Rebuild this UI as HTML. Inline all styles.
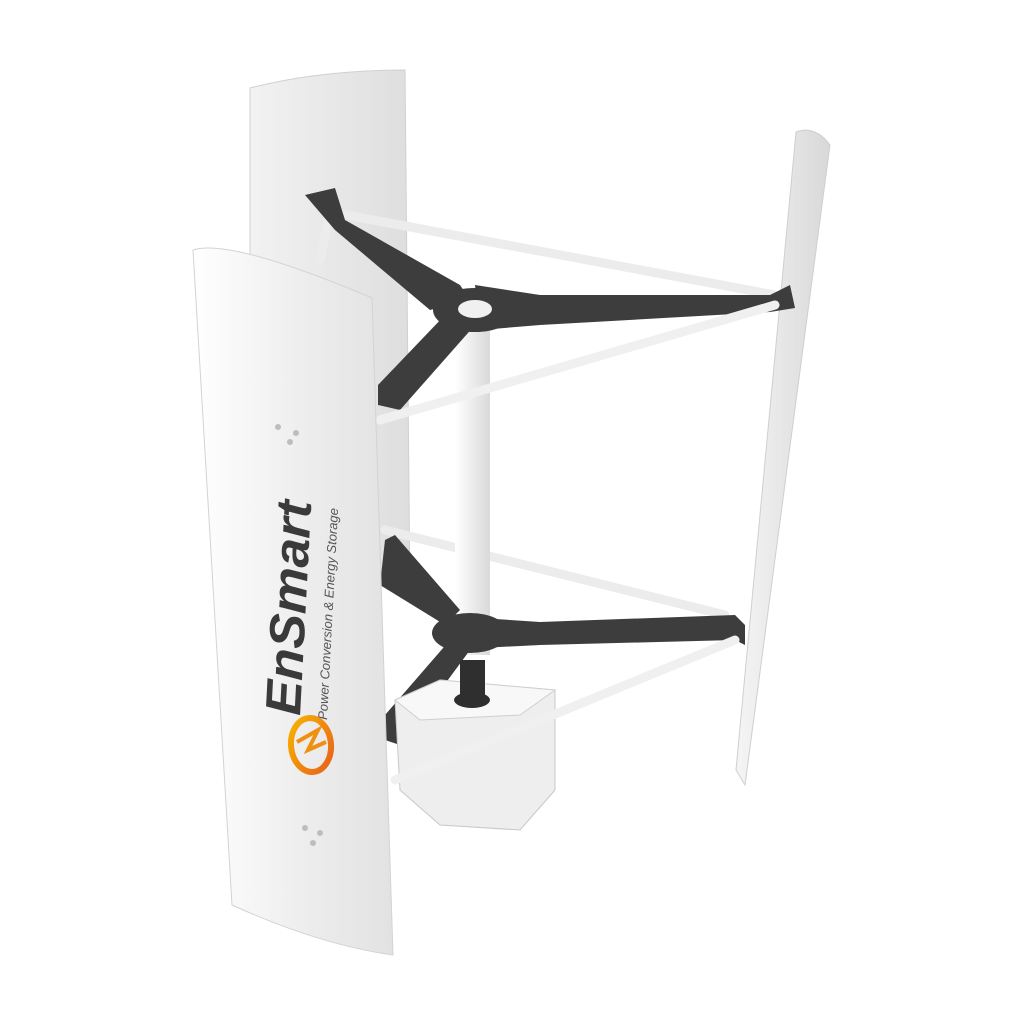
<!DOCTYPE html>
<html><head><meta charset="utf-8"><style>
html,body{margin:0;padding:0;background:#fff;width:1024px;height:1024px;overflow:hidden}
svg{display:block}
</style></head><body>
<svg width="1024" height="1024" viewBox="0 0 1024 1024" xmlns="http://www.w3.org/2000/svg">
<defs>
<linearGradient id="bl" x1="0" y1="0" x2="1" y2="0">
<stop offset="0" stop-color="#f2f2f2"/><stop offset="1" stop-color="#dedede"/></linearGradient>
<linearGradient id="fb" x1="0" y1="0" x2="1" y2="0">
<stop offset="0" stop-color="#ffffff"/><stop offset="0.6" stop-color="#ececec"/><stop offset="1" stop-color="#e2e2e2"/></linearGradient>
<linearGradient id="rb" x1="0" y1="0" x2="1" y2="0">
<stop offset="0" stop-color="#f5f5f5"/><stop offset="1" stop-color="#d8d8d8"/></linearGradient>
<linearGradient id="pole" x1="0" y1="0" x2="1" y2="0">
<stop offset="0" stop-color="#ffffff"/><stop offset="1" stop-color="#d9d9d9"/></linearGradient>
<linearGradient id="logo" x1="0" y1="0" x2="1" y2="1">
<stop offset="0" stop-color="#f8b400"/><stop offset="1" stop-color="#e8601a"/></linearGradient>
</defs>
<path d="M250,88 Q320,70 405,70 L410,595 Q395,585 385,580 L250,560 Z" fill="url(#bl)" stroke="#d0d0d0" stroke-width="1"/>
<g stroke="#ececec" stroke-width="9" stroke-linecap="round">
<line x1="330" y1="212" x2="775" y2="295"/>
<line x1="330" y1="212" x2="320" y2="260"/>
<line x1="385" y1="530" x2="725" y2="615"/>
</g>
<path d="M796,132 Q815,125 830,145 L745,785 L736,770 Z" fill="url(#rb)" stroke="#cfcfcf" stroke-width="1"/>
<rect x="455" y="305" width="35" height="350" fill="url(#pole)"/>
<g fill="#3d3d3d">
<path d="M305,195 L335,188 L345,220 L460,285 L470,300 L430,310 L335,230 Z"/>
<path d="M475,285 L540,295 L770,295 L790,285 L795,308 L770,312 L540,325 L480,330 Z"/>
<path d="M445,315 L475,325 L400,410 L378,405 L378,385 Z"/>
<ellipse cx="475" cy="310" rx="42" ry="22"/>
</g>
<ellipse cx="475" cy="309" rx="17" ry="9" fill="#f0f0f0"/>
<g fill="#3d3d3d">
<path d="M385,540 L395,535 L460,610 L445,625 L380,585 Z"/>
<path d="M480,618 L540,622 L735,615 L745,625 L745,645 L735,640 L540,645 L480,648 Z"/>
<path d="M450,640 L470,650 L400,745 L385,740 L385,715 Z"/>
<ellipse cx="470" cy="633" rx="38" ry="20"/>
</g>
<path d="M395,700 L440,680 L555,690 L555,790 L520,830 L440,825 L400,790 Z" fill="#eeeeee" stroke="#c8c8c8"/>
<path d="M395,700 L440,680 L555,690 L520,715 L420,720 Z" fill="#f8f8f8" stroke="#cfcfcf"/>
<rect x="460" y="660" width="25" height="40" fill="#2f2f2f"/>
<ellipse cx="472" cy="700" rx="18" ry="8" fill="#2f2f2f"/>
<g stroke="#f0f0f0" stroke-width="9" stroke-linecap="round">
<line x1="380" y1="420" x2="775" y2="305"/>
<line x1="395" y1="780" x2="735" y2="640"/>
</g>
<path d="M193,250 Q230,238 372,298 L393,955 Q320,945 232,905 Z" fill="url(#fb)" stroke="#d3d3d3" stroke-width="1"/>
<g fill="#bdbdbd"><circle cx="278" cy="427" r="3"/><circle cx="296" cy="433" r="3"/><circle cx="290" cy="442" r="3"/>
<circle cx="305" cy="828" r="3"/><circle cx="320" cy="833" r="3"/><circle cx="313" cy="843" r="3"/></g>
<text transform="translate(300,716) rotate(-87)" font-family="Liberation Sans, sans-serif" font-weight="bold" font-style="italic" font-size="50" fill="#3a3a3a" textLength="215" lengthAdjust="spacingAndGlyphs">EnSmart</text>
<text transform="translate(327,720) rotate(-87)" font-family="Liberation Sans, sans-serif" font-style="italic" font-size="13" fill="#555" textLength="212" lengthAdjust="spacingAndGlyphs">Power Conversion &amp; Energy Storage</text>
<ellipse cx="311" cy="745" rx="20" ry="27" fill="none" stroke="url(#logo)" stroke-width="6" transform="rotate(-5 311 745)"/>
<path d="M297,742 L318,730 L308,750 L326,742" fill="none" stroke="#f09010" stroke-width="4"/>
</svg>
</body></html>
